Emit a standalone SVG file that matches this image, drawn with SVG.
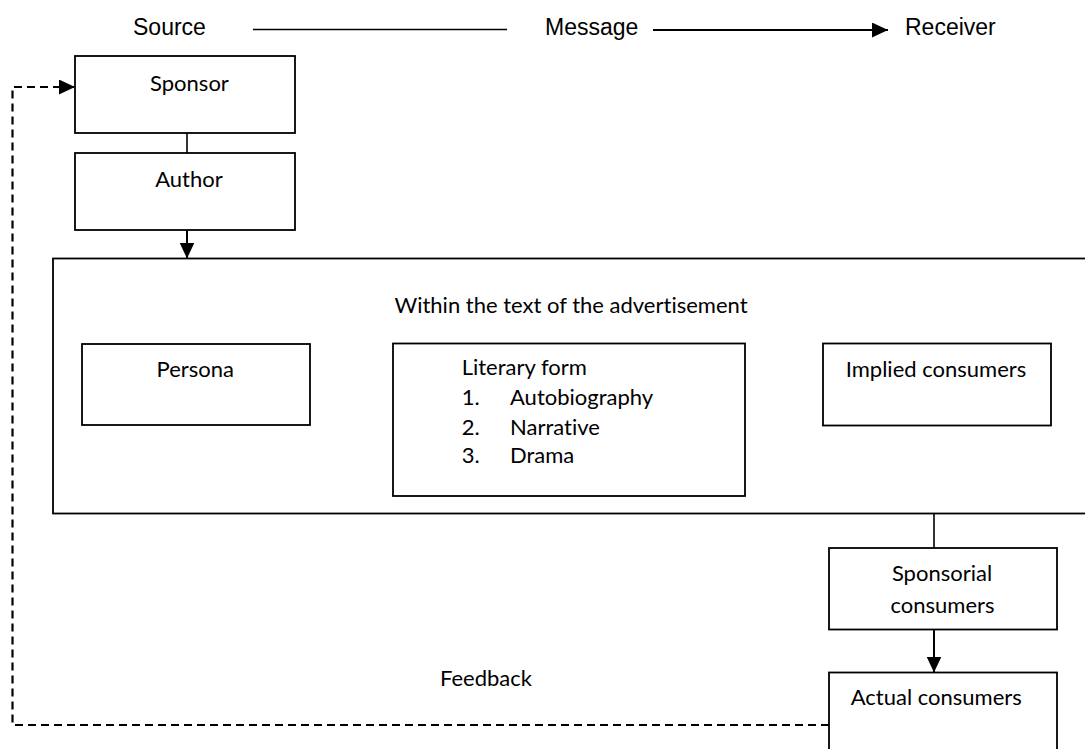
<svg xmlns="http://www.w3.org/2000/svg" width="1085" height="749" viewBox="0 0 1085 749">
  <style>
    .box { fill: #ffffff; stroke: #000000; stroke-width: 1.8; }
    .wire { fill: none; stroke: #000000; stroke-width: 1.6; }
    .arrow { fill: none; stroke: #000000; stroke-width: 2; }
    .dash { fill: none; stroke: #000000; stroke-width: 2.2; stroke-dasharray: 8 5; }
    .head { font-family: "Liberation Sans", Arial, sans-serif; font-size: 23px; fill: #000000; }
    .lbl { font-family: Lato, "Open Sans", sans-serif; font-size: 22px; fill: #000000; font-variant-ligatures: none; }
    .mid { text-anchor: middle; }
  </style>
  <defs>
    <marker id="tip" markerUnits="userSpaceOnUse" markerWidth="16" markerHeight="15" refX="16" refY="7.5" orient="auto">
      <path d="M0,0 L16,7.5 L0,15 z" fill="#000000"/>
    </marker>
  </defs>

  <!-- Source / Message / Receiver header -->
  <g id="header">
    <text class="head" x="133" y="35">Source</text>
    <text class="head" x="545" y="35">Message</text>
    <text class="head" x="905" y="35">Receiver</text>
  </g>

  <g id="sponsor">
    <rect class="box" x="75" y="56" width="220" height="77"/>
    <text class="lbl mid" x="189.5" y="91">Sponsor</text>
  </g>

  <g id="author">
    <rect class="box" x="75" y="153" width="220" height="77"/>
    <text class="lbl mid" x="189" y="187">Author</text>
  </g>

  <g id="advertisement-text">
    <rect class="box" x="53" y="258.5" width="1050" height="255"/>
    <text class="lbl mid" x="571" y="313">Within the text of the advertisement</text>
  </g>

  <g id="persona">
    <rect class="box" x="82" y="344" width="228" height="81"/>
    <text class="lbl mid" x="195.3" y="377">Persona</text>
  </g>

  <g id="literary-form">
    <rect class="box" x="393" y="343.5" width="352" height="152.5"/>
    <text class="lbl" x="461.7" y="375">Literary form</text>
    <text class="lbl" x="461.7" y="405">1.</text>
    <text class="lbl" x="510" y="405">Autobiography</text>
    <text class="lbl" x="461.7" y="435">2.</text>
    <text class="lbl" x="510" y="435">Narrative</text>
    <text class="lbl" x="461.7" y="463">3.</text>
    <text class="lbl" x="510" y="463">Drama</text>
  </g>

  <g id="implied-consumers">
    <rect class="box" x="823" y="343.5" width="228" height="82"/>
    <text class="lbl mid" x="936" y="377">Implied consumers</text>
  </g>

  <g id="sponsorial-consumers">
    <rect class="box" x="829" y="548" width="228" height="81.5"/>
    <text class="lbl mid" x="942" y="581">Sponsorial</text>
    <text class="lbl mid" x="942.5" y="613">consumers</text>
  </g>

  <g id="actual-consumers">
    <rect class="box" x="829" y="672.5" width="228" height="90"/>
    <text class="lbl" x="850.7" y="705">Actual consumers</text>
  </g>

  <g id="feedback-label">
    <text class="lbl mid" x="486" y="686">Feedback</text>
  </g>

  <g id="connectors">
    <line class="wire" x1="253" y1="29.5" x2="507" y2="29.5"/>
    <line class="arrow" x1="653" y1="30" x2="888" y2="30" marker-end="url(#tip)"/>
    <line class="wire" x1="187" y1="133" x2="187" y2="153"/>
    <line class="arrow" x1="187" y1="230" x2="187" y2="258.5" marker-end="url(#tip)"/>
    <line class="wire" x1="934" y1="513.5" x2="934" y2="548"/>
    <line class="arrow" x1="934" y1="629.5" x2="934" y2="672.5" marker-end="url(#tip)"/>
    <path class="dash" d="M829,725 H12.5 V87 H75" marker-end="url(#tip)"/>
  </g>
</svg>
